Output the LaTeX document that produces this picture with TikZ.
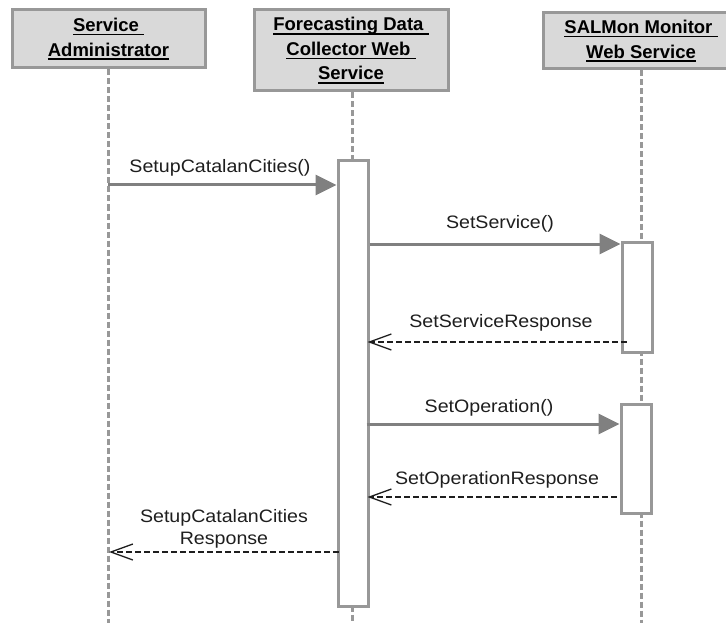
\documentclass[tikz,border=0pt]{standalone}
\usepackage{fontspec}
\setmainfont{Liberation Sans}
\newfontfamily\lblfont[FakeStretch=1.09]{Liberation Sans}
\newfontfamily\hdrfont[FakeStretch=1.0]{Liberation Sans}
\usetikzlibrary{arrows.meta}

% underline that sits just below the baseline, kept over any trailing space
\newcommand\hdrul[1]{\setbox0\hbox{#1}\rlap{\rule[-3.6pt]{\wd0}{1.3pt}}\box0}

\definecolor{hdrfill}{RGB}{217,217,217}
\definecolor{edgegray}{RGB}{152,152,152}
\definecolor{msggray}{RGB}{128,128,128}
\definecolor{inkdark}{RGB}{30,30,30}

\tikzset{
  hdr/.style={draw=edgegray, line width=3pt, fill=hdrfill, align=center,
    inner sep=0pt, text=black,
    font=\hdrfont\bfseries\fontsize{18.5}{24.5}\selectfont},
  lifeline/.style={draw=edgegray, line width=3pt, dash pattern=on 6pt off 3pt},
  activation/.style={draw=edgegray, line width=3pt, fill=white,
    minimum width=30pt, inner sep=0pt},
  call/.style={draw=msggray, line width=3pt,
    -{Triangle[length=21pt,width=20pt,fill=msggray]}},
  reply/.style={draw=inkdark, line width=1.3pt, dash pattern=on 6pt off 3pt,
    -{Straight Barb[length=22pt,width=16pt,line width=1.3pt]}},
  msglabel/.style={inner sep=0pt, text=inkdark, align=center,
    font=\lblfont\fontsize{18}{22}\selectfont},
}

\begin{document}
\begin{tikzpicture}[x=1pt,y=-1pt]
\useasboundingbox (0,0) rectangle (726,623);
\begin{scope}
\clip (0,0) rectangle (726,623);

% lifeline heads
\node[hdr, minimum width=193pt, minimum height=58pt] (sa) at (108.5,39)
  {\hdrul{Service\ }\\\hdrul{Administrator}};
\node[hdr, minimum width=194pt, minimum height=81pt] (fd) at (351,50.5)
  {\hdrul{Forecasting Data\ }\\\hdrul{Collector Web\ }\\\hdrul{Service}};
\node[hdr, minimum width=196pt, minimum height=56pt] (sm) at (641,41)
  {\hdrul{SALMon Monitor\ }\\\hdrul{Web Service}};

% lifeline ends
\coordinate (saend) at (108,626);
\coordinate (fdend) at (352,626);
\coordinate (smend) at (641,626);

\draw[lifeline] (sa.south -| saend) -- (saend);
\draw[lifeline] (fd.south -| fdend) -- (fdend);
\draw[lifeline] (sm.south -| smend) -- (smend);

% activation bars
\node[activation, minimum height=445pt] (a1) at (353,383.5) {};
\node[activation, minimum height=110pt] (a2) at (637,297) {};
\node[activation, minimum height=109pt] (a3) at (636,458.5) {};

% message rows
\coordinate (r1) at (0,185);
\coordinate (r2) at (0,244);
\coordinate (r3) at (0,342);
\coordinate (r4) at (0,424);
\coordinate (r5) at (0,497);
\coordinate (r6) at (0,552);

\draw[call]  (saend |- r1) -- (a1.west |- r1);
\draw[call]  (a1.east |- r2) -- (a2.west |- r2);
\draw[reply] ([xshift=6pt]a2.west |- r3) -- ([xshift=-2pt]a1.east |- r3);
\draw[call]  ([xshift=-3pt]a1.east |- r4) -- (a3.west |- r4);
\draw[reply] ([xshift=-3pt]a3.west |- r5) -- ([xshift=-2pt]a1.east |- r5);
\draw[reply] ([xshift=2pt]a1.west |- r6) -- ([xshift=1pt]saend |- r6);

% message labels
\node[msglabel, anchor=base] (l1) at (220,173) {SetupCatalanCities()};
\node[msglabel, anchor=base] (l2) at (500,229) {SetService()};
\node[msglabel, anchor=base] (l3) at (501,327) {SetServiceResponse};
\node[msglabel, anchor=base] (l4) at (489,412) {SetOperation()};
\node[msglabel, anchor=base] (l5) at (497,484) {SetOperationResponse};
\node[msglabel, anchor=south] (l6) at (224,548.8) {SetupCatalanCities\\Response};
\end{scope}
\end{tikzpicture}
\end{document}
